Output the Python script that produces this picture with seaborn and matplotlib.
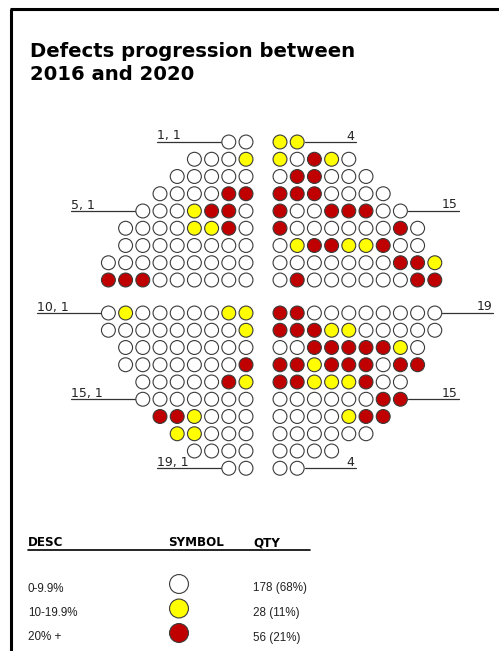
import matplotlib
matplotlib.use("Agg")
import matplotlib.pyplot as plt
import seaborn as sns
import pandas as pd

# Defect class of every die, one string per wafer row, read left to right.
# W = 0-9.9 %, Y = 10-19.9 %, R = 20 % +
left_rows = [
    "WW", "WWWY", "WWWWW", "WWWWRR", "WWWYRRW", "WWWWYYRW", "WWWWWWWW",
    "WWWWWWWWW", "RRRWWWWWW",
    "WYWWWWWYY", "WWWWWWWWY", "WWWWWWWW", "WWWWWWWR", "WWWWWRY",
    "WWWWWWW", "RRYWWW", "YYWWW", "WWWW", "WW",
]
right_rows = [
    "YY", "YWRYW", "WRRWWW", "RRRWWWW", "RWWRRRWW", "RWWWWWWRW",
    "WYRRYYRWW", "WWWWWWWRRY", "WRWWWWWWRR",
    "RRWWWWWWWW", "RRRYYWWWWW", "WWRRRRRYW", "RRYRRRWRR", "RRYYYRWW",
    "WWWWWWRR", "WWWWYRR", "WWWWWW", "WWWW", "WW",
]
labelled_rows = [1, 5, 10, 15, 19]
upper_half_rows = 9

classes = ["W", "Y", "R"]
class_desc = ["0-9.9%", "10-19.9%", "20% +"]
class_colors = ["#FFFFFF", "#FFFF00", "#C00000"]
title_lines = ["Defects progression between", "2016 and 2020"]

# ---- layout (pixels of the 499 x 651 canvas) ----
W, H = 499, 651
X_MID, HALF_GAP, COL_PITCH = 263, 17, 17.2
Y_TOP, ROW_PITCH, SPLIT_GAP = 142, 17.25, 15.75
DIE_R = 7.5
EDGE = "#3a3a3a"


def row_y(r):
    y = Y_TOP + (r - 1) * ROW_PITCH
    return y + SPLIT_GAP if r > upper_half_rows else y


records = []
for r, (lrow, rrow) in enumerate(zip(left_rows, right_rows), start=1):
    n = len(lrow)
    for i, c in enumerate(lrow):
        records.append({"row": r, "x": X_MID - HALF_GAP - (n - 1 - i) * COL_PITCH,
                        "y": row_y(r), "cls": c})
    for i, c in enumerate(rrow):
        records.append({"row": r, "x": X_MID + HALF_GAP + i * COL_PITCH,
                        "y": row_y(r), "cls": c})
dies = pd.DataFrame(records)

sns.set_style("white")
plt.rcParams["font.family"] = ["DejaVu Sans"]

fig = plt.figure(figsize=(W / 100, H / 100), dpi=100)
ax = fig.add_axes([0, 0, 1, 1])
ax.set_xlim(0, W)
ax.set_ylim(H, 0)
ax.axis("off")

palette = dict(zip(classes, class_colors))
sns.scatterplot(data=dies, x="x", y="y", hue="cls", hue_order=classes,
                palette=palette, s=100, edgecolor=EDGE, linewidth=0.8,
                legend=False, ax=ax, zorder=3)

# row markers: "row, 1" on the left, die count of the row on the right
for r in labelled_rows:
    sub = dies[dies["row"] == r]
    y = row_y(r)
    x0 = sub["x"].min() - DIE_R
    ax.plot([x0 - 64, x0], [y, y], color="#333333", lw=0.9, zorder=2)
    ax.text(x0 - 64, y - 2.5, f"{r}, 1", fontsize=9, color="#222222",
            ha="left", va="baseline")
    x1 = sub["x"].max() + DIE_R
    ax.plot([x1, x1 + 51], [y, y], color="#333333", lw=0.9, zorder=2)
    ax.text(x1 + 50, y - 2.5, f"{len(sub)}", fontsize=9, color="#222222",
            ha="right", va="baseline")

# title
ax.text(30, 57, title_lines[0], fontsize=14.1, fontweight="bold",
        color="black", ha="left", va="baseline")
ax.text(30, 80, title_lines[1], fontsize=14.1, fontweight="bold",
        color="black", ha="left", va="baseline")

# frame on the top and left edges
ax.plot([10, W], [10.2, 10.2], color="#9a9a9a", lw=0.8, solid_capstyle="butt")
ax.plot([10, W], [8.5, 8.5], color="black", lw=2.2, solid_capstyle="butt")
ax.plot([11, 11], [8.5, H], color="black", lw=2.2, solid_capstyle="butt")

# legend table
counts = dies["cls"].value_counts()
total = len(dies)
for x, head in zip([28, 168, 253], ["DESC", "SYMBOL", "QTY"]):
    ax.text(x, 546, head, fontsize=8.6, fontweight="bold", color="black",
            ha="left", va="baseline")
ax.plot([28, 310], [549.5, 549.5], color="black", lw=1.2)

legend_y = [584, 608.5, 633]
legend = pd.DataFrame({"cls": classes, "x": [179] * 3, "y": legend_y})
sns.scatterplot(data=legend, x="x", y="y", hue="cls", hue_order=classes,
                palette=palette, s=185, edgecolor=EDGE, linewidth=0.8,
                legend=False, ax=ax, zorder=3)
for c, desc, y in zip(classes, class_desc, legend_y):
    n = int(counts.get(c, 0))
    ax.text(28, y + 7.5, desc, fontsize=8.4, family="Liberation Sans",
            color="#222222", ha="left", va="baseline")
    ax.text(253, y + 7.5, f"{n} ({round(100 * n / total)}%)", fontsize=8.4,
            family="Liberation Sans", color="#222222", ha="left", va="baseline")

fig.savefig("out.png", dpi=100, facecolor="white")
